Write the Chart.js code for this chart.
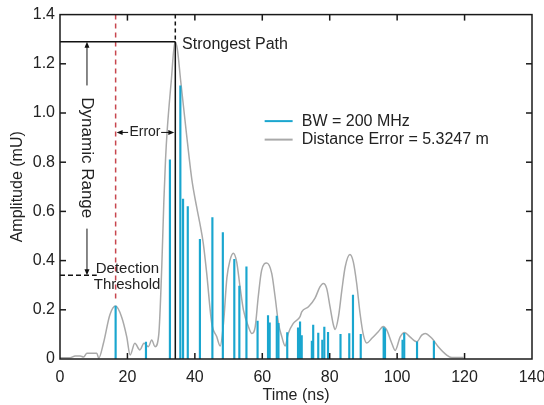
<!DOCTYPE html>
<html>
<head>
<meta charset="utf-8">
<script src="https://cdn.jsdelivr.net/npm/chart.js@4.4.0/dist/chart.umd.min.js"></script>
<style>
  html, body { margin: 0; padding: 0; background: #fff; }
</style>
</head>
<body>
<canvas id="cirChart" width="544" height="405"></canvas>
<script>
// --- Values ---
// multipath components (stems)
const pathTimes = [16.5, 25.5, 32.6, 35.7, 36.5, 37.9, 41.5, 45.2, 48.3, 51.7, 53.2, 55.3,
    58.6, 61.7, 62.2, 64.3, 64.8, 67.4, 70.6, 71.2, 71.7, 74.7, 75.1, 76.6, 77.8, 78.4,
    79.5, 83.2, 85.8, 86.9, 89.2, 96.0, 96.4, 101.6, 102.1, 105.9, 110.9];
const pathAmps = [0.215, 0.069, 0.81, 1.11, 0.65, 0.62, 0.486, 0.575, 0.514, 0.405, 0.296, 0.375,
    0.154, 0.176, 0.147, 0.174, 0.145, 0.107, 0.127, 0.151, 0.095, 0.073, 0.138, 0.105, 0.077, 0.13,
    0.108, 0.10, 0.103, 0.26, 0.10, 0.128, 0.123, 0.077, 0.104, 0.07, 0.073];

// band-limited response (grey curve)
const envTimes = [0, 3, 4.5, 6, 7, 8, 10.9, 11.5, 12.9, 14.8, 16.5, 18.3, 19.8, 20.8, 22.2,
    23.7, 24.9, 26.2, 27.2, 28.2, 29.3, 30.2, 30.8, 31.3, 31.8, 33.0, 34.1, 34.8, 35.8, 37.4,
    39.1, 40.5, 41.5, 42.5, 43.5, 45.0, 46.5, 47.5, 48.5, 49.5, 50.4, 51.4, 52.4, 53.4, 54.4,
    55.9, 56.9, 57.9, 58.8, 59.8, 61.3, 62.8, 63.8, 64.8, 65.8, 66.8, 67.7, 69.2, 71.2, 71.7,
    73.7, 75.6, 77.1, 78.1, 79.1, 80.1, 81.1, 81.6, 82.6, 83.6, 84.6, 86.0, 87.0, 88.0, 89.0,
    90.0, 91.0, 92.5, 94.4, 95.9, 96.9, 98.4, 99.4, 100.9, 102.2, 103.8, 105.8, 107.3, 108.3,
    110.3, 112.2, 114.7, 116.2, 119.7];
const envAmps = [0.005, 0.005, 0.012, 0.012, 0.008, 0.023, 0.023, 0.004, 0.065, 0.18, 0.215, 0.17, 0.09, 0.016, 0.064,
    0.037, 0.064, 0.05, 0.077, 0.05, 0.1, 0.38, 0.64, 0.81, 0.93, 1.13, 1.29, 1.26, 1.13, 0.93,
    0.73, 0.62, 0.55, 0.47, 0.35, 0.146, 0.09, 0.053, 0.146, 0.33, 0.40, 0.43, 0.395, 0.293, 0.2,
    0.131, 0.104, 0.131, 0.253, 0.36, 0.39, 0.348, 0.253, 0.145, 0.09, 0.053, 0.104, 0.145, 0.172, 0.192,
    0.212, 0.246, 0.293, 0.307, 0.287, 0.212, 0.138, 0.12, 0.172, 0.28, 0.375, 0.425, 0.395, 0.307, 0.185,
    0.097, 0.065, 0.084, 0.111, 0.132, 0.118, 0.064, 0.035, 0.09, 0.108, 0.09, 0.07, 0.097, 0.104,
    0.084, 0.05, 0.016, 0.006, 0.006];

const xTicks = [0, 20, 40, 60, 80, 100, 120, 140];
const yTicks = [0, 0.2, 0.4, 0.6, 0.8, 1, 1.2, 1.4];
const seriesLabels = ['BW = 200 MHz', 'Distance Error = 5.3247 m'];

// markers
const firstPathTime = 16.5;
const strongestTime = 34.2;
const strongestAmp = 1.29;
const thresholdAmp = 0.34;

const FONT = "'Liberation Sans', Arial, sans-serif";
const stemColor = '#1aa6cf';
const curveColor = '#a9a9a9';

function drawArrow(ctx, x1, y1, x2, y2) {
    // line from (x1,y1) to (x2,y2), head at (x2,y2)
    const ang = Math.atan2(y2 - y1, x2 - x1);
    const len = 6, wid = 2.5;
    ctx.beginPath();
    ctx.moveTo(x1, y1);
    ctx.lineTo(x2 - Math.cos(ang) * len * 0.8, y2 - Math.sin(ang) * len * 0.8);
    ctx.stroke();
    ctx.beginPath();
    ctx.moveTo(x2, y2);
    ctx.lineTo(x2 - Math.cos(ang) * len - Math.sin(ang) * wid, y2 - Math.sin(ang) * len + Math.cos(ang) * wid);
    ctx.lineTo(x2 - Math.cos(ang) * len + Math.sin(ang) * wid, y2 - Math.sin(ang) * len - Math.cos(ang) * wid);
    ctx.closePath();
    ctx.fill();
}

function line(ctx, x1, y1, x2, y2) {
    ctx.beginPath();
    ctx.moveTo(x1, y1);
    ctx.lineTo(x2, y2);
    ctx.stroke();
}

// --- frame, inward ticks, annotations, legend ---
const figurePlugin = {
    id: 'figureExtras',
    afterDatasetsDraw(chart) {
        const { ctx, chartArea: area, scales: { x, y } } = chart;
        const px = v => x.getPixelForValue(v);
        const py = v => y.getPixelForValue(v);
        ctx.save();

        // first path (red dashed)
        ctx.strokeStyle = '#c8464e';
        ctx.lineWidth = 1.5;
        ctx.setLineDash([5, 4]);
        line(ctx, px(firstPathTime), area.top, px(firstPathTime), py(0.24));

        // strongest path
        ctx.strokeStyle = '#111';
        ctx.setLineDash([4, 3]);
        line(ctx, px(strongestTime), area.top, px(strongestTime), py(strongestAmp));
        ctx.setLineDash([]);
        line(ctx, px(strongestTime), py(0), px(strongestTime), py(strongestAmp));
        line(ctx, area.left, py(strongestAmp), px(strongestTime), py(strongestAmp));

        // detection threshold
        ctx.setLineDash([5, 3]);
        line(ctx, area.left, py(thresholdAmp), px(10.9), py(thresholdAmp));
        ctx.setLineDash([]);

        // dynamic range arrows
        ctx.lineWidth = 1;
        ctx.fillStyle = '#111';
        drawArrow(ctx, px(8), py(1.112), px(8), py(strongestAmp));
        drawArrow(ctx, px(8), py(0.53), px(8), py(thresholdAmp));

        // error arrows
        drawArrow(ctx, px(20.2), py(0.921), px(16.8), py(0.921));
        drawArrow(ctx, px(30), py(0.921), px(33.9), py(0.921));

        // texts
        ctx.fillStyle = '#222';
        ctx.textBaseline = 'middle';
        ctx.font = `16px ${FONT}`;
        ctx.textAlign = 'left';
        ctx.fillText('Strongest Path', px(36.2), py(1.278));

        ctx.font = `14px ${FONT}`;
        ctx.textAlign = 'center';
        ctx.fillText('Error', px(25.2), py(0.921));
        ctx.font = `15px ${FONT}`;
        ctx.fillText('Detection', px(20), py(0.365));
        ctx.fillText('Threshold', px(19.9), py(0.30));

        ctx.save();
        ctx.translate(px(8), py(0.818));
        ctx.rotate(Math.PI / 2);
        ctx.font = `17px ${FONT}`;
        ctx.fillText('Dynamic Range', 0, 0);
        ctx.restore();

        // legend
        ctx.lineWidth = 2;
        ctx.textAlign = 'left';
        ctx.font = `16px ${FONT}`;
        const legendColors = [stemColor, curveColor];
        seriesLabels.forEach((lab, i) => {
            const ly = py(0.967) + i * 18.5;
            ctx.strokeStyle = legendColors[i];
            line(ctx, px(60.7), ly, px(69), ly);
            ctx.fillStyle = '#222';
            ctx.fillText(lab, px(71.7), ly);
        });

        // frame and inward ticks
        ctx.strokeStyle = '#1a1a1a';
        ctx.lineWidth = 1.5;
        ctx.strokeRect(area.left, area.top, area.right - area.left, area.bottom - area.top);
        const tl = 6;
        xTicks.slice(1, -1).forEach(v => {
            line(ctx, px(v), area.bottom, px(v), area.bottom - tl);
            line(ctx, px(v), area.top, px(v), area.top + tl);
        });
        yTicks.slice(1, -1).forEach(v => {
            line(ctx, area.left, py(v), area.left + tl, py(v));
            line(ctx, area.right, py(v), area.right - tl, py(v));
        });
        ctx.restore();
    }
};

const ctx = document.getElementById('cirChart');
new Chart(ctx, {
    type: 'line',
    data: {
        datasets: [
            {
                type: 'bar',
                label: seriesLabels[0],
                data: pathTimes.map((t, i) => ({ x: t, y: pathAmps[i] })),
                backgroundColor: stemColor,
                barThickness: 1.5,
                grouped: false,
                order: 1
            },
            {
                type: 'line',
                label: seriesLabels[1],
                data: envTimes.map((t, i) => ({ x: t, y: envAmps[i] })),
                borderColor: curveColor,
                borderWidth: 1.5,
                pointRadius: 0,
                cubicInterpolationMode: 'monotone',
                order: 2
            }
        ]
    },
    options: {
        responsive: false,
        animation: false,
        layout: { padding: { top: 14, right: 12, left: 0, bottom: 0 } },
        plugins: { legend: { display: false }, tooltip: { enabled: false } },
        scales: {
            x: {
                type: 'linear',
                min: 0, max: 140,
                offset: false,
                afterBuildTicks: s => { s.ticks = xTicks.map(v => ({ value: v })); },
                afterFit: s => { s.height = 46; s.paddingRight = 0; s.paddingLeft = 0; },
                grid: { display: false, drawTicks: false },
                border: { display: false },
                ticks: { padding: 9, color: '#222', font: { family: FONT, size: 16 } },
                title: { display: true, text: 'Time (ns)', color: '#222', padding: { top: 0, bottom: 0 }, font: { family: FONT, size: 16 } }
            },
            y: {
                min: 0, max: 1.4,
                afterBuildTicks: s => { s.ticks = yTicks.map(v => ({ value: v })); },
                afterFit: s => { s.width = 60; },
                grid: { display: false, drawTicks: false },
                border: { display: false },
                ticks: { padding: 5, color: '#222', font: { family: FONT, size: 16 } },
                title: { display: true, text: 'Amplitude (mU)', color: '#222', padding: { top: 8, bottom: 0 }, font: { family: FONT, size: 16 } }
            }
        }
    },
    plugins: [figurePlugin]
});
</script>
</body>
</html>
